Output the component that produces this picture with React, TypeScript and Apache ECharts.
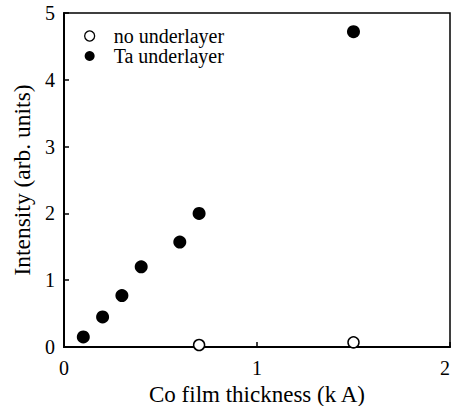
import React, { useEffect, useRef } from "react";
import * as echarts from "echarts";

// Co film thickness (k Å) and XRD intensity (arb. units)
const noUnderlayerX = [0.7, 1.5];
const noUnderlayerY = [0.03, 0.07];
const taUnderlayerX = [0.1, 0.2, 0.3, 0.4, 0.6, 0.7, 1.5];
const taUnderlayerY = [0.15, 0.45, 0.77, 1.2, 1.57, 2.0, 4.72];
const seriesNames = ["no underlayer", "Ta underlayer"];

const FONT = "Liberation Serif";

export default function App() {
  const ref = useRef<HTMLDivElement>(null);
  useEffect(() => {
    if (!ref.current) return;
    const chart = echarts.init(ref.current, null, { renderer: "svg" });
    const pairs = (xs: number[], ys: number[]) => xs.map((x, i) => [x, ys[i]]);
    chart.setOption({
      animation: false,
      backgroundColor: "#fff",
      textStyle: { fontFamily: FONT, color: "#000" },
      grid: {
        left: 64,
        top: 13,
        right: 3,
        bottom: 59,
        containLabel: false,
        outerBoundsMode: "none",
        show: true,
        borderColor: "#000",
        borderWidth: 1.5,
      },
      legend: {
        left: 79,
        top: 21,
        orient: "vertical",
        itemGap: 0,
        itemWidth: 10,
        itemHeight: 10,
        textStyle: { fontFamily: FONT, fontSize: 20, color: "#000", padding: [0, 0, 0, 14] },
        data: [
          { name: seriesNames[0], icon: "circle", itemStyle: { color: "#fff", borderColor: "#000", borderWidth: 1.3, opacity: 1 } },
          { name: seriesNames[1], icon: "circle", itemStyle: { color: "#000", opacity: 1 } },
        ],
      },
      xAxis: {
        type: "value",
        min: 0,
        max: 2,
        interval: 1,
        name: "Co film thickness (k A)",
        nameLocation: "middle",
        nameGap: 30,
        nameTextStyle: { fontFamily: FONT, fontSize: 23, lineHeight: 24, color: "#000" },
        axisLine: { lineStyle: { color: "#000", width: 2 } },
        axisTick: { inside: true, length: 5, lineStyle: { color: "#000", width: 1.5 } },
        axisLabel: { fontFamily: FONT, fontSize: 20, color: "#000", margin: 11, alignMaxLabel: "right" },
        splitLine: { show: false },
      },
      yAxis: {
        type: "value",
        min: 0,
        max: 5,
        interval: 1,
        name: "Intensity (arb. units)",
        nameLocation: "middle",
        nameGap: 28,
        nameTextStyle: { fontFamily: FONT, fontSize: 23.5, color: "#000" },
        axisLine: { lineStyle: { color: "#000", width: 2 } },
        axisTick: { inside: true, length: 5, lineStyle: { color: "#000", width: 1.5 } },
        axisLabel: { fontFamily: FONT, fontSize: 20, color: "#000", margin: 9 },
        splitLine: { show: false },
      },
      series: [
        {
          name: seriesNames[0],
          type: "scatter",
          symbol: "circle",
          symbolSize: 11,
          itemStyle: { color: "#fff", borderColor: "#000", borderWidth: 1.5, opacity: 1 },
          data: pairs(noUnderlayerX, noUnderlayerY),
          z: 3,
        },
        {
          name: seriesNames[1],
          type: "scatter",
          symbol: "circle",
          symbolSize: 13,
          itemStyle: { color: "#000", opacity: 1 },
          data: pairs(taUnderlayerX, taUnderlayerY),
        },
      ],
    });
    return () => chart.dispose();
  }, []);
  return <div ref={ref} style={{ width: 453, height: 406, position: "absolute", left: 0, top: 0 }} />;
}
